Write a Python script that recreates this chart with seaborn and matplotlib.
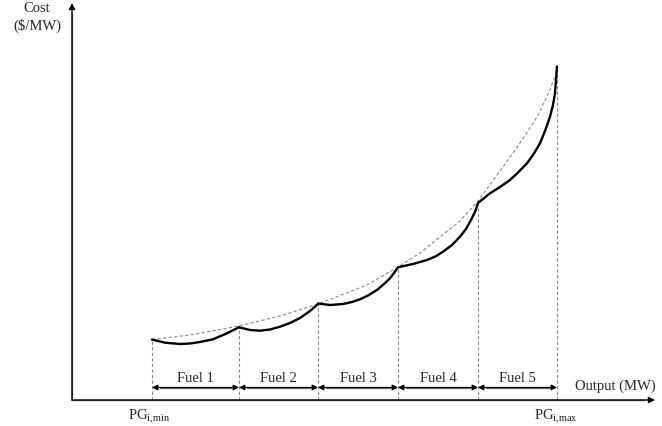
"""
Piecewise fuel cost curve of a generating unit (multi-fuel), redrawn with seaborn.
Each fuel has its own quadratic-looking segment; the dashed curve is the
single-fuel envelope.
"""

import matplotlib
matplotlib.use("Agg")
import matplotlib.pyplot as plt
import seaborn as sns
import pandas as pd

# Data (output in MW-like units from the origin, cost in $/MW-like units)
BREAK_OUTPUT = [80, 167, 246, 326, 406, 485]
BREAK_COST = [60.5, 72.7, 96.5, 132.7, 197, 333.5]
FUEL_LABELS = ["Fuel 1", "Fuel 2", "Fuel 3", "Fuel 4", "Fuel 5"]

fuel1_out = [80, 93, 108, 118, 128, 141, 155, 167]
fuel1_cost = [60.5, 57.3, 56, 56.5, 58, 60.7, 66.7, 72.7]
fuel2_out = [167, 178, 188, 198, 208, 218, 228, 238, 246]
fuel2_cost = [72.7, 70, 69.3, 70.5, 73.3, 77, 82, 89, 96]
fuel3_out = [246, 258, 271, 280, 288, 296, 305, 312, 318, 322, 326]
fuel3_cost = [96.5, 95, 96, 98, 100.7, 104.5, 110, 116, 121.7, 127, 132.7]
fuel4_out = [326, 341, 355, 364, 371, 380, 388, 394, 399, 403, 406]
fuel4_cost = [132.7, 136, 140, 143.8, 148.3, 155, 163.3, 171, 180, 188, 197]
fuel5_out = [406, 418, 428, 438, 446, 455, 462, 468, 473, 478, 481, 483, 485]
fuel5_cost = [197, 206.7, 213, 220, 227.5, 236.7, 246.5, 256.7, 269, 283.3, 295, 306.7, 333.5]

envelope_out = [80, 118, 167, 208, 246, 295, 326, 348, 368, 388, 406, 431, 448, 465, 478, 485]
envelope_cost = [60.5, 65, 74, 84, 96, 115, 133, 147, 163, 179, 199, 233, 257, 283, 310, 330]

# Build long-form table for the fuel segments
segments = [
    (fuel1_out, fuel1_cost), (fuel2_out, fuel2_cost), (fuel3_out, fuel3_cost),
    (fuel4_out, fuel4_cost), (fuel5_out, fuel5_cost),
]
rows = []
for label, (xs, ys) in zip(FUEL_LABELS, segments):
    for x, y in zip(xs, ys):
        rows.append({"fuel": label, "output": x, "cost": y})
fuel_df = pd.DataFrame(rows)
envelope_df = pd.DataFrame({"output": envelope_out, "cost": envelope_cost})

sns.set_theme(style="white")
plt.rcParams["font.family"] = ["Liberation Serif", "DejaVu Serif"]
plt.rcParams["mathtext.fontset"] = "custom"
plt.rcParams["mathtext.rm"] = "Liberation Serif"

fig = plt.figure(figsize=(6.62, 4.26), dpi=100)
ax = fig.add_axes([0, 0, 1, 1])
ax.set_xlim(-72, 590)
ax.set_ylim(-26, 400)
ax.axis("off")

AXIS_GREY = "#6e6e6e"
DASH_GREY = "#8c8c8c"

# Axes with arrows
ax.annotate("", xy=(583, 0), xytext=(0, 0),
            arrowprops=dict(arrowstyle="-|>", color="black", lw=1.0,
                            mutation_scale=9, shrinkA=0, shrinkB=0))
ax.plot([0, 572], [0, 0], color=AXIS_GREY, lw=1.0)
ax.annotate("", xy=(0, 397), xytext=(0, 0),
            arrowprops=dict(arrowstyle="-|>", color="black", lw=1.0,
                            mutation_scale=9, shrinkA=0, shrinkB=0))
ax.plot([0, 0], [0, 386], color=AXIS_GREY, lw=1.0)

# Vertical dashed guides at breakpoints
for x, y in zip(BREAK_OUTPUT, BREAK_COST):
    ax.plot([x, x], [0, y], color=DASH_GREY, lw=0.8, dashes=(3, 2))

# Envelope and fuel segments
sns.lineplot(data=envelope_df, x="output", y="cost", ax=ax, color=DASH_GREY,
             lw=0.8, estimator=None, sort=False, linestyle=(0, (3, 2)))
sns.lineplot(data=fuel_df, x="output", y="cost", units="fuel", estimator=None,
             ax=ax, color="black", lw=1.7, sort=False, legend=False)

# Fuel range arrows and labels
arrow_y = 12.5
for i, label in enumerate(FUEL_LABELS):
    a, b = BREAK_OUTPUT[i], BREAK_OUTPUT[i + 1]
    ax.annotate("", xy=(b, arrow_y), xytext=(a, arrow_y),
                arrowprops=dict(arrowstyle="<|-|>", color="black", lw=0.9,
                                mutation_scale=8, shrinkA=0, shrinkB=0))
    ax.plot([a + 8, b - 8], [arrow_y, arrow_y], color=AXIS_GREY, lw=0.9)
    ax.text((a + b) / 2, 21, label, ha="center", va="center", fontsize=10.5)

# Axis labels
ax.text(-35, 392, "Cost", ha="center", va="center", fontsize=10.5)
ax.text(-35, 374, "($/MW)", ha="center", va="center", fontsize=10.5)
ax.text(543, 14, "Output (MW)", ha="center", va="center", fontsize=10.5)
ax.text(BREAK_OUTPUT[0] - 3, -17, r"PG$_{\mathregular{i{,}min}}$", ha="center",
        va="center", fontsize=10.5)
ax.text(BREAK_OUTPUT[-1] - 1, -17, r"PG$_{\mathregular{i{,}max}}$", ha="center",
        va="center", fontsize=10.5)

fig.savefig("out.png", dpi=100)
